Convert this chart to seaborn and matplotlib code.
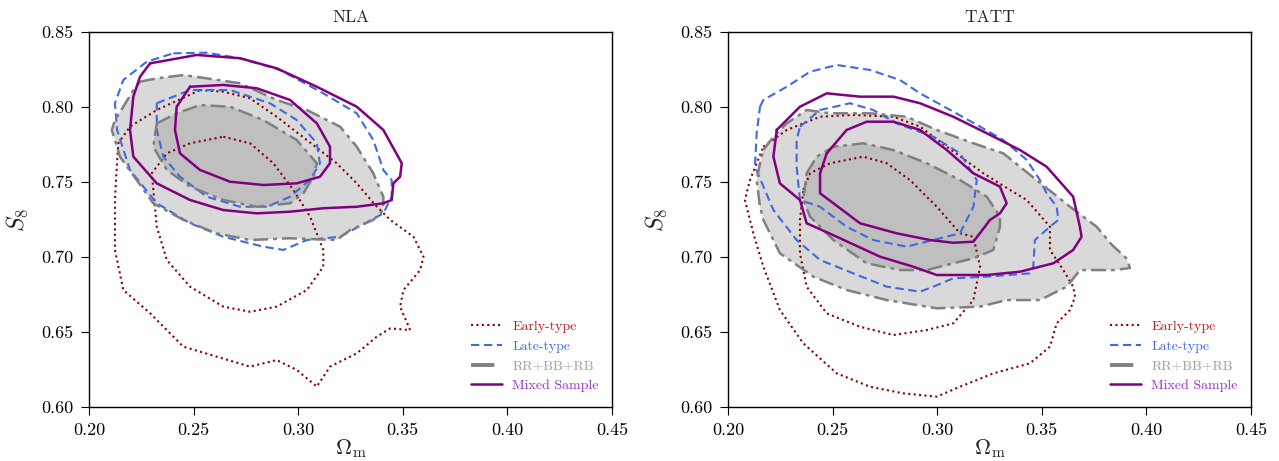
# S8 - Omega_m contours for NLA and TATT intrinsic alignment models
import matplotlib
matplotlib.use("Agg")
from matplotlib import pyplot as plt
import seaborn as sns
import pandas as pd

# contour outlines (Omega_m, S8), inner = 68%, outer = 95%

# NLA panel
nla_early_out_x = [0.2531, 0.2642, 0.2770, 0.2897, 0.3041, 0.3184, 0.3280, 0.3368, 0.3440, 0.3551, 0.3599, 0.3583, 0.3503, 0.3487, 0.3535, 0.3440, 0.3376, 0.3280, 0.3152, 0.3089, 0.2993, 0.2897, 0.2770, 0.2610, 0.2451, 0.2292, 0.2164, 0.2124, 0.2124, 0.2129, 0.2140, 0.2196, 0.2324]
nla_early_out_y = [0.8113, 0.8102, 0.8058, 0.7935, 0.7780, 0.7625, 0.7491, 0.7347, 0.7247, 0.7135, 0.7002, 0.6913, 0.6780, 0.6669, 0.6513, 0.6524, 0.6469, 0.6358, 0.6269, 0.6136, 0.6247, 0.6313, 0.6269, 0.6336, 0.6402, 0.6625, 0.6780, 0.7047, 0.7380, 0.7513, 0.7758, 0.7869, 0.7980]
nla_early_in_x = [0.2642, 0.2770, 0.2881, 0.2977, 0.3057, 0.3120, 0.3120, 0.3041, 0.2897, 0.2770, 0.2642, 0.2483, 0.2372, 0.2324, 0.2300, 0.2372, 0.2483]
nla_early_in_y = [0.7802, 0.7758, 0.7625, 0.7447, 0.7269, 0.7047, 0.6935, 0.6780, 0.6669, 0.6635, 0.6669, 0.6802, 0.6980, 0.7202, 0.7558, 0.7691, 0.7758]

nla_late_out_x = [0.2403, 0.2563, 0.2722, 0.2913, 0.3120, 0.3280, 0.3359, 0.3407, 0.3447, 0.3447, 0.3407, 0.3200, 0.3041, 0.2929, 0.2833, 0.2642, 0.2483, 0.2324, 0.2196, 0.2134, 0.2124, 0.2164, 0.2276]
nla_late_out_y = [0.8358, 0.8362, 0.8325, 0.8247, 0.8091, 0.7958, 0.7780, 0.7580, 0.7513, 0.7402, 0.7291, 0.7135, 0.7113, 0.7047, 0.7069, 0.7135, 0.7225, 0.7358, 0.7580, 0.7847, 0.8025, 0.8180, 0.8302]
nla_late_in_x = [0.2324, 0.2483, 0.2674, 0.2865, 0.2993, 0.3089, 0.3104, 0.3056, 0.2961, 0.2850, 0.2722, 0.2563, 0.2435, 0.2355, 0.2324]
nla_late_in_y = [0.8025, 0.8113, 0.8113, 0.8025, 0.7913, 0.7758, 0.7625, 0.7513, 0.7402, 0.7335, 0.7335, 0.7402, 0.7535, 0.7669, 0.7847]

nla_rr_out_x = [0.2244, 0.2324, 0.2451, 0.2563, 0.2722, 0.2897, 0.3041, 0.3200, 0.3280, 0.3359, 0.3407, 0.3407, 0.3359, 0.3248, 0.3184, 0.2961, 0.2770, 0.2610, 0.2451, 0.2307, 0.2148, 0.2109, 0.2124, 0.2164, 0.2212]
nla_rr_out_y = [0.8169, 0.8191, 0.8213, 0.8191, 0.8158, 0.8047, 0.7980, 0.7869, 0.7735, 0.7558, 0.7402, 0.7313, 0.7247, 0.7180, 0.7113, 0.7125, 0.7113, 0.7158, 0.7247, 0.7358, 0.7669, 0.7847, 0.7913, 0.8002, 0.8113]
nla_rr_in_x = [0.2324, 0.2419, 0.2531, 0.2674, 0.2833, 0.2993, 0.3089, 0.3073, 0.3025, 0.2961, 0.2802, 0.2642, 0.2483, 0.2372, 0.2307]
nla_rr_in_y = [0.7891, 0.7958, 0.8013, 0.8002, 0.7913, 0.7780, 0.7625, 0.7535, 0.7425, 0.7358, 0.7335, 0.7380, 0.7469, 0.7580, 0.7735]

nla_mixed_out_x = [0.2292, 0.2515, 0.2722, 0.2897, 0.3089, 0.3280, 0.3407, 0.3495, 0.3487, 0.3455, 0.3447, 0.3407, 0.3280, 0.3120, 0.2961, 0.2802, 0.2642, 0.2483, 0.2324, 0.2212, 0.2196, 0.2212, 0.2244]
nla_mixed_out_y = [0.8291, 0.8347, 0.8325, 0.8258, 0.8135, 0.8002, 0.7847, 0.7625, 0.7535, 0.7491, 0.7380, 0.7358, 0.7335, 0.7325, 0.7302, 0.7291, 0.7313, 0.7380, 0.7491, 0.7669, 0.7847, 0.8069, 0.8202]
nla_mixed_in_x = [0.2483, 0.2642, 0.2802, 0.2961, 0.3089, 0.3152, 0.3152, 0.3104, 0.2993, 0.2833, 0.2674, 0.2531, 0.2435, 0.2411, 0.2419]
nla_mixed_in_y = [0.8135, 0.8147, 0.8125, 0.8047, 0.7891, 0.7735, 0.7625, 0.7535, 0.7491, 0.7480, 0.7502, 0.7580, 0.7691, 0.7847, 0.8002]

# TATT panel
tatt_early_out_x = [0.2169, 0.2281, 0.2440, 0.2599, 0.2791, 0.2918, 0.3046, 0.3221, 0.3348, 0.3428, 0.3539, 0.3539, 0.3603, 0.3650, 0.3659, 0.3635, 0.3571, 0.3539, 0.3443, 0.3268, 0.3109, 0.2998, 0.2838, 0.2679, 0.2520, 0.2360, 0.2248, 0.2169, 0.2121, 0.2081, 0.2089, 0.2105]
tatt_early_out_y = [0.7735, 0.7847, 0.7935, 0.7947, 0.7935, 0.7869, 0.7735, 0.7558, 0.7447, 0.7380, 0.7202, 0.7047, 0.6913, 0.6802, 0.6735, 0.6647, 0.6558, 0.6402, 0.6291, 0.6224, 0.6135, 0.6069, 0.6091, 0.6135, 0.6224, 0.6424, 0.6647, 0.6935, 0.7158, 0.7380, 0.7425, 0.7513]
tatt_early_in_x = [0.2360, 0.2392, 0.2488, 0.2647, 0.2759, 0.2870, 0.2998, 0.3109, 0.3173, 0.3205, 0.3173, 0.3077, 0.2950, 0.2791, 0.2631, 0.2472, 0.2376, 0.2344, 0.2344]
tatt_early_in_y = [0.7447, 0.7558, 0.7625, 0.7669, 0.7625, 0.7513, 0.7335, 0.7158, 0.7135, 0.6935, 0.6713, 0.6558, 0.6513, 0.6480, 0.6535, 0.6624, 0.6802, 0.7025, 0.7247]

tatt_late_out_x = [0.2153, 0.2169, 0.2281, 0.2392, 0.2520, 0.2679, 0.2822, 0.2918, 0.3077, 0.3205, 0.3316, 0.3428, 0.3491, 0.3523, 0.3571, 0.3579, 0.3539, 0.3467, 0.3459, 0.3443, 0.3237, 0.3077, 0.2981, 0.2918, 0.2759, 0.2599, 0.2440, 0.2328, 0.2217, 0.2129, 0.2137]
tatt_late_out_y = [0.8002, 0.8047, 0.8135, 0.8235, 0.8280, 0.8247, 0.8180, 0.8091, 0.7969, 0.7869, 0.7780, 0.7647, 0.7513, 0.7425, 0.7335, 0.7247, 0.7202, 0.7113, 0.6935, 0.6891, 0.6869, 0.6858, 0.6802, 0.6769, 0.6802, 0.6891, 0.6980, 0.7113, 0.7313, 0.7602, 0.7825]
tatt_late_in_x = [0.2344, 0.2440, 0.2583, 0.2694, 0.2806, 0.2981, 0.3109, 0.3189, 0.3173, 0.3141, 0.3109, 0.2981, 0.2854, 0.2694, 0.2567, 0.2440, 0.2344, 0.2328, 0.2328]
tatt_late_in_y = [0.7869, 0.7980, 0.8025, 0.7980, 0.7891, 0.7802, 0.7691, 0.7513, 0.7335, 0.7247, 0.7158, 0.7113, 0.7069, 0.7113, 0.7202, 0.7335, 0.7380, 0.7602, 0.7780]

tatt_rr_out_x = [0.2169, 0.2217, 0.2281, 0.2376, 0.2488, 0.2679, 0.2854, 0.2998, 0.3173, 0.3316, 0.3475, 0.3635, 0.3762, 0.3836, 0.3903, 0.3922, 0.3850, 0.3683, 0.3619, 0.3491, 0.3332, 0.3205, 0.2998, 0.2759, 0.2567, 0.2408, 0.2248, 0.2169, 0.2153, 0.2137, 0.2153]
tatt_rr_out_y = [0.7713, 0.7802, 0.7891, 0.7980, 0.7958, 0.7958, 0.7935, 0.7847, 0.7758, 0.7691, 0.7513, 0.7335, 0.7202, 0.7080, 0.6993, 0.6927, 0.6913, 0.6913, 0.6802, 0.6713, 0.6713, 0.6669, 0.6658, 0.6713, 0.6780, 0.6869, 0.7025, 0.7247, 0.7335, 0.7513, 0.7625]
tatt_rr_in_x = [0.2376, 0.2424, 0.2504, 0.2647, 0.2791, 0.2950, 0.3109, 0.3237, 0.3300, 0.3300, 0.3268, 0.3173, 0.3077, 0.2950, 0.2822, 0.2663, 0.2504, 0.2392, 0.2360]
tatt_rr_in_y = [0.7558, 0.7669, 0.7735, 0.7758, 0.7713, 0.7625, 0.7513, 0.7402, 0.7269, 0.7202, 0.7047, 0.6991, 0.6958, 0.6913, 0.6913, 0.6958, 0.7113, 0.7269, 0.7380]

tatt_mixed_out_x = [0.2233, 0.2344, 0.2472, 0.2631, 0.2791, 0.2918, 0.3077, 0.3237, 0.3396, 0.3523, 0.3650, 0.3682, 0.3690, 0.3650, 0.3555, 0.3396, 0.3237, 0.2998, 0.2886, 0.2727, 0.2520, 0.2376, 0.2344, 0.2248, 0.2217]
tatt_mixed_out_y = [0.7847, 0.8002, 0.8091, 0.8069, 0.8069, 0.8025, 0.7935, 0.7825, 0.7713, 0.7602, 0.7402, 0.7202, 0.7135, 0.7047, 0.6958, 0.6902, 0.6880, 0.6880, 0.6935, 0.7002, 0.7135, 0.7225, 0.7380, 0.7491, 0.7669]
tatt_mixed_in_x = [0.2440, 0.2472, 0.2567, 0.2663, 0.2791, 0.2918, 0.3046, 0.3173, 0.3300, 0.3332, 0.3300, 0.3252, 0.3228, 0.3173, 0.3077, 0.2966, 0.2806, 0.2631, 0.2504, 0.2440]
tatt_mixed_in_y = [0.7558, 0.7691, 0.7847, 0.7902, 0.7902, 0.7847, 0.7713, 0.7558, 0.7469, 0.7358, 0.7291, 0.7247, 0.7202, 0.7102, 0.7095, 0.7113, 0.7158, 0.7225, 0.7358, 0.7425]

titles = ["NLA", "TATT"]
labels = ["Early-type", "Late-type", "RR+BB+RB", "Mixed Sample"]
x_ticks = [0.20, 0.25, 0.30, 0.35, 0.40, 0.45]
y_ticks = [0.60, 0.65, 0.70, 0.75, 0.80, 0.85]

panels = [
    {"early": [(nla_early_in_x, nla_early_in_y), (nla_early_out_x, nla_early_out_y)],
     "late": [(nla_late_in_x, nla_late_in_y), (nla_late_out_x, nla_late_out_y)],
     "rr": [(nla_rr_in_x, nla_rr_in_y), (nla_rr_out_x, nla_rr_out_y)],
     "mixed": [(nla_mixed_in_x, nla_mixed_in_y), (nla_mixed_out_x, nla_mixed_out_y)]},
    {"early": [(tatt_early_in_x, tatt_early_in_y), (tatt_early_out_x, tatt_early_out_y)],
     "late": [(tatt_late_in_x, tatt_late_in_y), (tatt_late_out_x, tatt_late_out_y)],
     "rr": [(tatt_rr_in_x, tatt_rr_in_y), (tatt_rr_out_x, tatt_rr_out_y)],
     "mixed": [(tatt_mixed_in_x, tatt_mixed_in_y), (tatt_mixed_out_x, tatt_mixed_out_y)]},
]

sns.set_theme(style="ticks")
plt.rcParams["font.family"] = ["cmr10", "DejaVu Serif"]
plt.rcParams["mathtext.fontset"] = "cm"
plt.rcParams["axes.formatter.use_mathtext"] = True
plt.rcParams["axes.unicode_minus"] = False


def closed(xs, ys):
    # close the contour loop
    return pd.DataFrame({"om": list(xs) + [xs[0]], "s8": list(ys) + [ys[0]]})


def draw_line(ax, xs, ys, color, ls, lw, label=None):
    sns.lineplot(data=closed(xs, ys), x="om", y="s8", sort=False, estimator=None,
                 color=color, linestyle=ls, linewidth=lw, label=label, ax=ax, legend=False)


fig = plt.figure(figsize=(12.79, 4.61), dpi=100)
axes = [fig.add_axes([89 / 1279, 54 / 461, 523 / 1279, 375 / 461]),
        fig.add_axes([728 / 1279, 54 / 461, 523 / 1279, 375 / 461])]

styles = {
    "early": ("#8b0000", (0, (1, 1.6)), 1.5),
    "late": ("#4169e1", (0, (4, 2.2)), 1.5),
    "rr": ("#808080", (0, (6, 2, 1.5, 2)), 1.8),
    "mixed": ("#800080", "-", 1.8),
}

for ax, panel, title in zip(axes, panels, titles):
    # filled gray contours
    (rin_x, rin_y), (rout_x, rout_y) = panel["rr"]
    ax.fill(rout_x, rout_y, color="#d9d9d9", zorder=1, lw=0)
    ax.fill(rin_x, rin_y, color="#bfbfbf", zorder=1, lw=0)

    for key, lab in zip(["early", "late", "rr", "mixed"], labels):
        color, ls, lw = styles[key]
        for i, (xs, ys) in enumerate(panel[key]):
            draw_line(ax, xs, ys, color, ls, lw, label=lab if i == 1 else None)

    ax.set_xlim(0.20, 0.45)
    ax.set_ylim(0.60, 0.85)
    ax.set_xticks(x_ticks)
    ax.set_yticks(y_ticks)
    ax.set_xticklabels([f"{t:.2f}" for t in x_ticks], fontsize=13)
    ax.set_yticklabels([f"{t:.2f}" for t in y_ticks], fontsize=13)
    ax.set_xlabel(r"$\Omega_{\rm m}$", fontsize=16, labelpad=0)
    ax.set_ylabel(r"$S_8$", fontsize=17, labelpad=8)
    ax.set_title(title, fontsize=12.5, pad=7)
    for sp in ax.spines.values():
        sp.set_linewidth(1.0)
        sp.set_color("black")
    ax.tick_params(direction="out", length=6, width=0.8, pad=5, colors="black")

    handles, hlabels = ax.get_legend_handles_labels()
    order = [hlabels.index(l) for l in labels]
    leg = ax.legend([handles[i] for i in order], labels, loc="lower right",
                    frameon=False, fontsize=10, handlelength=2.2, handletextpad=0.75,
                    bbox_to_anchor=(0.985, 0.025), borderaxespad=0, labelspacing=0.5)
    leg_colors = ["#b22222", "#4169e1", "#a0a0a0", "#9932cc"]
    for txt, c in zip(leg.get_texts(), leg_colors):
        txt.set_color(c)
    for h in leg.legend_handles:
        if h.get_color() == "#808080":
            h.set_linewidth(2.8)

fig.savefig("out.png", dpi=100)
